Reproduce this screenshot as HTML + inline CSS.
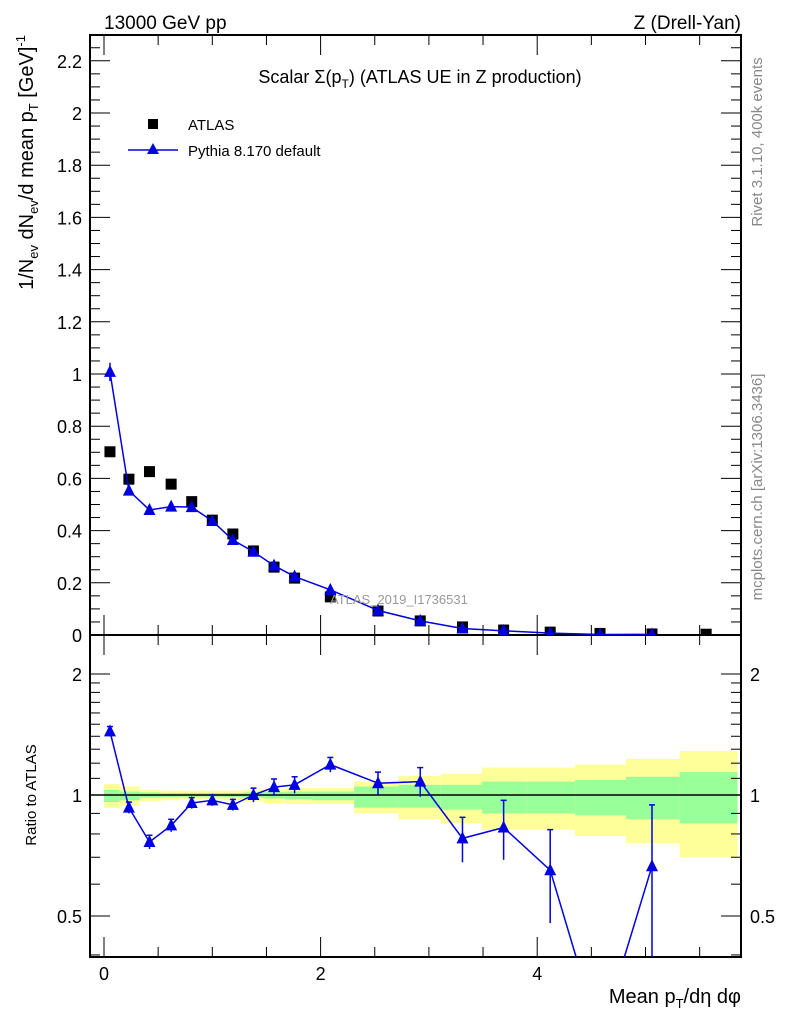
<!DOCTYPE html>
<html><head><meta charset="utf-8"><style>
html,body{margin:0;padding:0;background:#fff;overflow:hidden;width:786px;height:1024px}
svg{display:block;font-family:"Liberation Sans",sans-serif;overflow:hidden}
</style></head><body>
<svg id="c" width="786" height="1024" viewBox="0 0 786 1024">
<defs>
<clipPath id="cm"><rect x="90" y="35" width="651" height="600"/></clipPath>
<clipPath id="cr"><rect x="90" y="635" width="651" height="322"/></clipPath>
</defs>
<g id="bands" clip-path="url(#cr)"></g>
<g id="axes"></g>
<g id="marks"></g>
<text x="104" y="29" font-size="19">13000 GeV pp</text>
<text x="741" y="29" font-size="19" text-anchor="end">Z (Drell-Yan)</text>
<text x="420" y="83" font-size="18" text-anchor="middle">Scalar Σ(p<tspan font-size="12" dy="5">T</tspan><tspan dy="-5">) (ATLAS UE in Z production)</tspan></text>
<rect x="148" y="119" width="10" height="10" fill="#000"/>
<text x="188" y="130" font-size="15">ATLAS</text>
<line x1="128" y1="150" x2="178" y2="150" stroke="#0000e0" stroke-width="1.5"/>
<polygon points="153,143 159,154 147,154" fill="#0000e0"/>
<text x="188" y="156" font-size="15">Pythia 8.170 default</text>
<text x="330" y="604" font-size="13" fill="#999">ATLAS_2019_I1736531</text>
<text transform="translate(762,142) rotate(-90)" font-size="15" fill="#888" text-anchor="middle">Rivet 3.1.10,  400k events</text>
<text transform="translate(762,487) rotate(-90)" font-size="15" fill="#888" text-anchor="middle">mcplots.cern.ch [arXiv:1306.3436]</text>
<text transform="translate(33,35) rotate(-90)" font-size="20" text-anchor="end">1/N<tspan font-size="13" dy="5">ev</tspan><tspan dy="-5"> dN</tspan><tspan font-size="13" dy="5">ev</tspan><tspan dy="-5">/d mean p</tspan><tspan font-size="13" dy="5">T</tspan><tspan dy="-5"> [GeV]</tspan><tspan font-size="13" dy="-8">-1</tspan></text>
<text transform="translate(36,795) rotate(-90)" font-size="15" text-anchor="middle">Ratio to ATLAS</text>
<text x="741" y="1003" font-size="20" text-anchor="end">Mean p<tspan font-size="13" dy="5">T</tspan><tspan dy="-5">/dη dφ</tspan></text>
</svg>
<script>
const xVals=[0.055,0.23,0.42,0.62,0.81,1.0,1.19,1.38,1.57,1.76,2.09,2.53,2.92,3.31,3.69,4.12,4.58,5.06,5.56];
const atlasVals=[0.702,0.597,0.626,0.578,0.511,0.44,0.387,0.322,0.26,0.218,0.146,0.092,0.054,0.031,0.019,0.011,0.006,0.004,0.003];
const pyVals=[1.008,0.553,0.479,0.492,0.49,0.437,0.364,0.319,0.266,0.224,0.173,0.094,0.054,0.025,0.016,0.007,0.002,0.0026];
const pyErr=[0.035,0.015,0.015,0.015,0.012,0.01,0.01,0.008,0.007,0.006,0.005,0.004,0.003,0.002,0.002,0.002,0.001,0.001];
const ratioVals=[1.44,0.93,0.764,0.84,0.955,0.97,0.945,1.0,1.046,1.06,1.19,1.07,1.08,0.78,0.83,0.65,0.25,0.665];
const ratioErr=[0.04,0.03,0.03,0.03,0.03,0.03,0.03,0.04,0.05,0.05,0.05,0.07,0.09,0.1,0.14,0.17,0.1,0.28];
const binEdges=[0,0.145,0.33,0.525,0.715,0.905,1.095,1.285,1.48,1.67,1.925,2.31,2.72,3.11,3.49,3.9,4.35,4.82,5.315,5.85];
const yelUp=[1.065,1.05,1.03,1.025,1.025,1.025,1.025,1.03,1.035,1.04,1.04,1.08,1.115,1.13,1.17,1.17,1.19,1.23,1.286];
const yelDn=[0.928,0.94,0.965,0.97,0.975,0.975,0.97,0.965,0.955,0.95,0.95,0.90,0.87,0.85,0.82,0.82,0.79,0.76,0.70];
const grnUp=[1.03,1.02,1.015,1.012,1.012,1.012,1.012,1.015,1.018,1.02,1.02,1.05,1.06,1.06,1.08,1.08,1.09,1.11,1.14];
const grnDn=[0.96,0.97,0.985,0.988,0.99,0.99,0.988,0.985,0.98,0.975,0.97,0.93,0.93,0.92,0.9,0.9,0.89,0.87,0.85];
const mainTicks=[0,0.2,0.4,0.6,0.8,1,1.2,1.4,1.6,1.8,2,2.2];
const ratioTicks=[0.5,1,2];
const xTicks=[0,2,4];
const NS="http://www.w3.org/2000/svg";
const X=v=>104+v*108.3, Ym=v=>635-v*261, Yr=r=>795-121*Math.log2(r);
const RB=957, RT=635;
const cl=y=>Math.min(RB,Math.max(RT,y));
function mk(parent,tag,attrs){const e=document.createElementNS(NS,tag);for(const k in attrs)e.setAttribute(k,attrs[k]);document.getElementById(parent).appendChild(e);return e;}
for(let i=0;i<yelUp.length;i++){
 const x0=X(binEdges[i]),x1=X(binEdges[i+1]);
 const y=mk('bands','rect',{x:x0,y:Yr(yelUp[i]),width:x1-x0,height:Yr(yelDn[i])-Yr(yelUp[i]),fill:'#ffff99'});
 
 
 const g=mk('bands','rect',{x:x0,y:Yr(grnUp[i]),width:x1-x0,height:Yr(grnDn[i])-Yr(grnUp[i]),fill:'#99ff99'});
 
 
}
mk('axes','line',{x1:90,y1:795,x2:741,y2:795,stroke:'#000','stroke-width':1.5});
for(const f of [[35,635],[635,957]]){
 const r=mk('axes','rect',{x:90,y:f[0],width:651,height:f[1]-f[0],fill:'none',stroke:'#000','stroke-width':2});
 
 
}
for(let v=0;v<=2.3;v+=0.05){
 const maj=Math.abs(v/0.2-Math.round(v/0.2))<1e-6, L=maj?20:10, y=Ym(v);
 mk('axes','line',{x1:90,y1:y,x2:90+L,y2:y,stroke:'#000'});
 mk('axes','line',{x1:741,y1:y,x2:741-L,y2:y,stroke:'#000'});
}
for(const v of mainTicks){
 const t=mk('axes','text',{x:82,y:Ym(v)+7,'font-size':18,'text-anchor':'end'});
 t.textContent=String(v);
 
 
}
const rt=[0.4,0.5,0.6,0.7,0.8,0.9,1,1.1,1.2,1.3,1.4,1.5,1.6,1.7,1.8,1.9,2];
for(const r of rt){const maj=ratioTicks.includes(r),L=maj?20:10,y=Yr(r);
 mk('axes','line',{x1:90,y1:y,x2:90+L,y2:y,stroke:'#000'});
 mk('axes','line',{x1:741,y1:y,x2:741-L,y2:y,stroke:'#000'});}
for(const r of ratioTicks){
 for(const [x,a] of [[82,'end'],[750,'start']]){
 const t=mk('axes','text',{x:x,y:Yr(r)+7,'font-size':18,'text-anchor':a});
 t.textContent=String(r);
 
 }
}
for(let v=0;v<=5.9;v+=0.5){
 const maj=xTicks.includes(v),L=maj?20:10,x=X(v);
 for(const yb of [635,957]){mk('axes','line',{x1:x,y1:yb,x2:x,y2:yb-L,stroke:'#000'});}
 mk('axes','line',{x1:x,y1:35,x2:x,y2:35+L,stroke:'#000'});
 mk('axes','line',{x1:x,y1:635,x2:x,y2:635+L,stroke:'#000'});
}
for(const v of xTicks){
 const t=mk('axes','text',{x:X(v),y:980,'font-size':18,'text-anchor':'middle'});
 t.textContent=String(v);
 
 
}
const gm=mk('marks','g',{'clip-path':'url(#cm)'});gm.id='gm';
const gr=mk('marks','g',{'clip-path':'url(#cr)'});gr.id='gr';
for(let i=0;i<atlasVals.length;i++){
 const s=mk('gm','rect',{x:X(xVals[i])-5.5,y:Ym(atlasVals[i])-5.5,width:11,height:11,fill:'#000'});
 
 
}
const tri=(g,x,y)=>mk(g,'polygon',{points:`${x},${y-7} ${x+6},${y+5} ${x-6},${y+5}`,fill:'#0000e0'});
const pl=mk('gm','polyline',{points:pyVals.map((v,i)=>X(xVals[i])+','+Ym(v)).join(' '),fill:'none',stroke:'#0000e0','stroke-width':1.5});


for(let i=0;i<pyVals.length;i++){
 const x=X(xVals[i]);
 mk('gm','line',{x1:x,y1:Ym(pyVals[i]+pyErr[i]),x2:x,y2:Ym(pyVals[i]-pyErr[i]),stroke:'#0000e0','stroke-width':1.5});
 const t=tri('gm',x,Ym(pyVals[i]));
 
 
}
// ratio line, clipped geometrically to the panel
const segs=[];
for(let i=0;i+1<ratioVals.length;i++){
 let x0=X(xVals[i]),y0=Yr(ratioVals[i]),x1=X(xVals[i+1]),y1=Yr(ratioVals[i+1]);
 if(y0>RB&&y1>RB)continue;
 if(y0>RB){x0=x0+(x1-x0)*(RB-y0)/(y1-y0);y0=RB;}
 if(y1>RB){x1=x0+(x1-x0)*(RB-y0)/(y1-y0);y1=RB;}
 segs.push(`M${x0},${y0}L${x1},${y1}`);
}
const rl=mk('gr','path',{d:segs.join(''),fill:'none',stroke:'#0000e0','stroke-width':1.5});


for(let i=0;i<ratioVals.length;i++){
 const x=X(xVals[i]);
 const yc=Yr(ratioVals[i]);
 if(yc>RB+8)continue;
 const yt=cl(Yr(ratioVals[i]+ratioErr[i])), yb=cl(Yr(Math.max(0.01,ratioVals[i]-ratioErr[i])));
 mk('gr','line',{x1:x,y1:yt,x2:x,y2:yb,stroke:'#0000e0','stroke-width':1.5});
 mk('gr','line',{x1:x-3,y1:yt,x2:x+3,y2:yt,stroke:'#0000e0','stroke-width':1.5});
 const t=tri('gr',x,yc);
 
 
}
</script>
</body></html>
